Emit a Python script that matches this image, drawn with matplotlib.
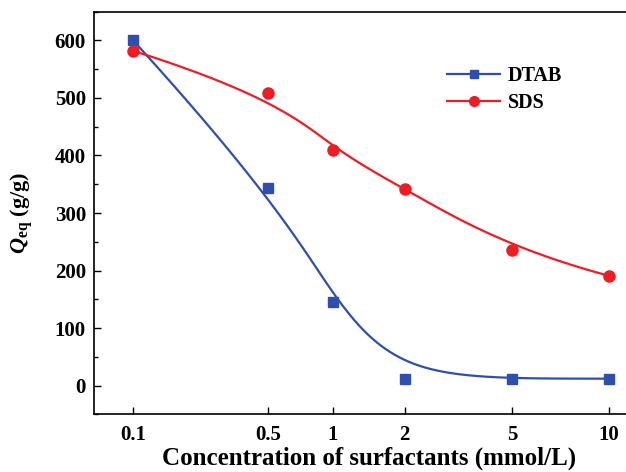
import matplotlib

matplotlib.use("Agg")

import matplotlib.pyplot as plt  # noqa: E402
import numpy as np  # noqa: E402

# data
conc_labels = ["0.1", "0.5", "1", "2", "5", "10"]
conc_slot = [0.0, 2.83, 4.20, 5.71, 7.97, 10.0]   # x layout of the categories
dtab = [600, 343, 146, 12, 12, 12]
sds = [582, 508, 410, 342, 236, 191]

_BLUE = "#2f4fae"
_RED = "#ee1c25"

plt.rcParams["font.family"] = "Liberation Serif"
plt.rcParams["font.weight"] = "bold"
plt.rcParams["mathtext.fontset"] = "custom"
plt.rcParams["mathtext.rm"] = "Liberation Serif:bold"
plt.rcParams["mathtext.bf"] = "Liberation Serif:bold"
plt.rcParams["mathtext.it"] = "Liberation Serif:bold:italic"
plt.rcParams["mathtext.bfit"] = "Liberation Serif:bold:italic"


def _bspline(xs, ys, k=3, n=400):
    """Clamped cubic B-spline using the points as control points (Origin style)."""
    xs = np.asarray(xs, float)
    ys = np.asarray(ys, float)
    m = len(xs)
    t = np.concatenate([np.zeros(k), np.linspace(0, 1, m - k + 1), np.ones(k)])
    u = np.linspace(0, 1, n)

    def basis(i, p):
        if p == 0:
            b = ((t[i] <= u) & (u < t[i + 1])).astype(float)
            if t[i + 1] == 1.0 and t[i] < 1.0:
                b[u == 1.0] = 1.0
            return b
        out = np.zeros_like(u)
        d1 = t[i + p] - t[i]
        d2 = t[i + p + 1] - t[i + 1]
        if d1 > 0:
            out += (u - t[i]) / d1 * basis(i, p - 1)
        if d2 > 0:
            out += (t[i + p + 1] - u) / d2 * basis(i + 1, p - 1)
        return out

    B = np.array([basis(i, k) for i in range(m)])
    return B.T @ xs, B.T @ ys


fig = plt.figure(figsize=(6.26, 4.72), dpi=100)
ax = fig.add_axes([0.1506, 0.1222, 0.852, 0.853])

for vals, color, marker, ms, name in [
    (dtab, _BLUE, "s", 7, "DTAB"),
    (sds, _RED, "o", 8, "SDS"),
]:
    cx, cy = _bspline(conc_slot, vals)
    ax.plot(cx, cy, color=color, lw=1.6, zorder=2)
    ax.plot(conc_slot, vals, ls="none", marker=marker, ms=ms, color=color,
            zorder=3)
    ax.plot([], [], color=color, lw=1.6, marker=marker, ms=ms - 1, label=name)

ax.set_xlim(-0.82, 10.4)
ax.set_ylim(-50, 650)
ax.set_xticks(conc_slot)
ax.set_xticklabels(conc_labels)
ax.set_yticks(np.arange(0, 601, 100))
ax.set_yticks(np.arange(-50, 651, 50), minor=True)
ax.tick_params(axis="both", which="both", direction="in", labelsize=15,
               width=1.0)
ax.tick_params(axis="both", which="major", length=5)
ax.tick_params(axis="y", which="minor", length=3)
ax.tick_params(axis="x", which="major", pad=8)
ax.tick_params(axis="y", which="major", pad=6)
for sp in ax.spines.values():
    sp.set_linewidth(1.2)

ax.set_xlabel("Concentration of surfactants (mmol/L)", fontsize=18,
              fontweight="bold")
ax.xaxis.set_label_coords(0.515, -0.08)
ax.set_ylabel(r"$\mathbfit{Q}_{\mathrm{eq}}$ (g/g)", fontsize=16,
              fontweight="bold")
ax.yaxis.set_label_coords(-0.112, 0.5)

ax.legend(loc="upper left", bbox_to_anchor=(0.628, 0.91), frameon=False,
          fontsize=14.5, handlelength=2.6, handletextpad=0.4,
          labelspacing=0.35)

fig.savefig("out.png")
